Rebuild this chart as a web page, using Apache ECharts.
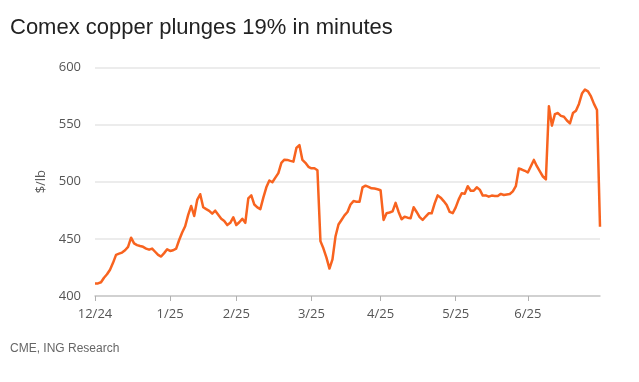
<!DOCTYPE html>
<html>
<head>
<meta charset="utf-8">
<script src="https://cdn.jsdelivr.net/npm/echarts@6/dist/echarts.min.js"></script>
<style>
html,body{margin:0;padding:0;background:#fff;}
#chart{width:639px;height:382px;}
</style>
</head>
<body>
<div id="chart"></div>
<script>
// Comex copper price, US cents per lb ($/lb as labelled)
const prices = [
  411, 411, 412, 416, 419, 423, 429, 436, 437, 438,
  440, 443, 451, 446, 444.5, 443.7, 443, 441.5, 440.5, 441.5,
  438.7, 436, 434.5, 437.5, 440.8, 439.4, 440, 441.5, 449, 455.5,
  461, 471, 478.7, 470, 484, 489, 477.6, 476, 474.5, 472,
  474.6, 471, 467.5, 465.5, 462, 464, 468.8, 462.1, 464.5, 467.5,
  464, 485.4, 488, 480, 477.5, 476, 486, 495, 501, 499.5,
  503.5, 507.5, 516.5, 519.2, 519, 518.2, 517.5, 529.5, 532, 519,
  516.5, 513, 511.7, 511.7, 510, 448, 441.5, 433.5, 424, 432,
  452, 462.5, 466.5, 470.5, 473.5, 480, 483, 482.5, 482.5, 495,
  496.5, 495.5, 494.2, 494, 493.3, 492.5, 466.5, 472.3, 473, 474,
  481.5, 473.5, 467.1, 469.3, 468.5, 468, 477.6, 473.5, 469, 466.5,
  469.5, 472.3, 472.3, 481, 488, 486, 483, 479.6, 473.5, 472.4,
  477.5, 484.5, 489.8, 489.5, 496, 492, 492, 495, 493, 487.8,
  488, 486.9, 487.8, 487.5, 487.5, 489.3, 488.3, 488.8, 489.2, 491.5,
  496, 511.5, 510.6, 509.5, 508, 513.5, 519, 513.5, 509, 504.5,
  502, 566, 549, 559, 560, 557.5, 556.8, 553.5, 551, 560,
  562, 568, 577, 580.5, 579, 574.5, 568, 562.6, 460.6
];
const tickLabels = ['12/24', '1/25', '2/25', '3/25', '4/25', '5/25', '6/25'];
const tickIndex = [0, 25, 47, 72, 95, 120, 144];
const yTicks = [400, 450, 500, 550, 600];

const categories = prices.map((_, i) => String(i));
const tickMap = new Map(tickIndex.map((idx, k) => [idx, tickLabels[k]]));

const chart = echarts.init(document.getElementById('chart'), null, {renderer: 'canvas'});
chart.setOption({
  animation: false,
  backgroundColor: '#ffffff',
  title: [
    {
      text: 'Comex copper plunges 19% in minutes',
      left: 5, top: 12,
      textStyle: {fontFamily: 'Liberation Sans, Arial, sans-serif', fontSize: 22, fontWeight: 'normal', color: '#222222'}
    },
    {
      text: 'CME, ING Research',
      left: 5, top: 338,
      textStyle: {fontFamily: 'Liberation Sans, Arial, sans-serif', fontSize: 12, fontWeight: 'normal', color: '#666666'}
    }
  ],
  grid: {left: 95, right: 39, top: 67.3, bottom: 86, containLabel: false},
  xAxis: {
    type: 'category',
    data: categories,
    boundaryGap: false,
    axisLine: {show: true, lineStyle: {color: '#c8c8c8', width: 1.5}},
    axisTick: {show: true, length: 5, lineStyle: {color: '#b0b0b0', width: 1}, interval: (i) => tickMap.has(i)},
    axisLabel: {
      interval: (i) => tickMap.has(i),
      formatter: (v, i) => tickMap.get(i) || '',
      fontFamily: 'Open Sans, Noto Sans, sans-serif', fontSize: 13, color: '#555555', margin: 12
    },
    splitLine: {show: false}
  },
  yAxis: {
    type: 'value',
    min: yTicks[0], max: yTicks[yTicks.length - 1], interval: 50,
    name: '$/lb', nameLocation: 'middle', nameGap: 44, nameRotate: 90,
    nameTextStyle: {fontFamily: 'Open Sans, Noto Sans, sans-serif', fontSize: 13, color: '#555555'},
    axisLine: {show: false},
    axisTick: {show: false},
    axisLabel: {fontFamily: 'Open Sans, Noto Sans, sans-serif', fontSize: 13, color: '#555555', margin: 14},
    splitLine: {show: true, lineStyle: {color: '#e6e6e6', width: 1.5}}
  },
  series: [{
    type: 'line',
    data: prices,
    showSymbol: false,
    symbol: 'none',
    lineStyle: {color: '#f8631f', width: 2.5, join: 'round'},
    itemStyle: {color: '#f8631f'}
  }]
});
</script>
</body>
</html>
